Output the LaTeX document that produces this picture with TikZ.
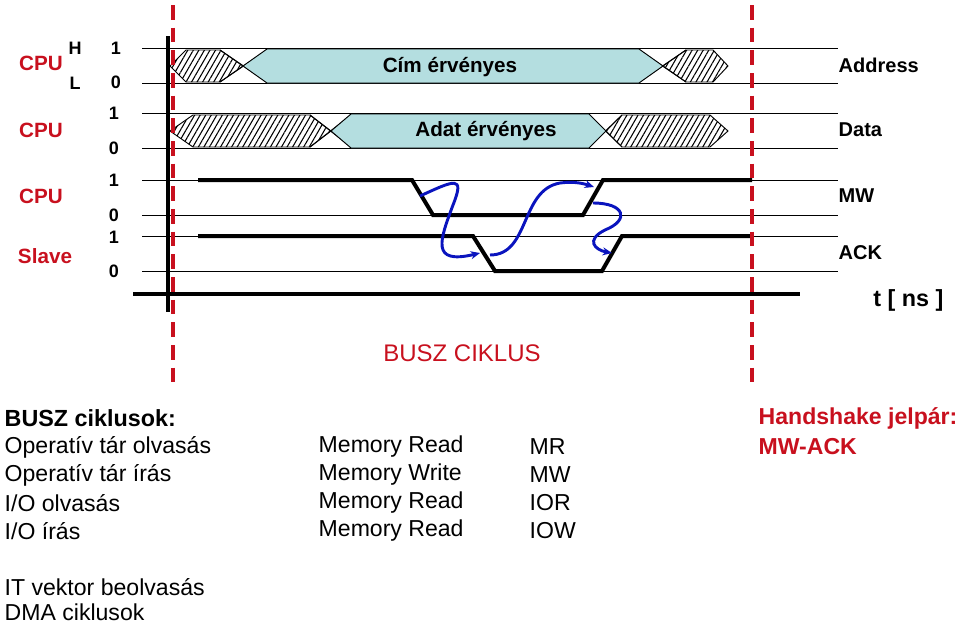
\documentclass[tikz,border=0pt]{standalone}
\usepackage{fontspec}
\setmainfont{Liberation Sans}
\usetikzlibrary{patterns.meta,arrows.meta}
\definecolor{rd}{RGB}{200,16,30}
\definecolor{cy}{RGB}{180,222,224}
\definecolor{bl}{RGB}{10,20,190}
\begin{document}
\begin{tikzpicture}[x=0.75pt,y=-0.75pt,
  thin line/.style={line width=0.7pt},
  sig/.style={line width=3pt},
  hatch/.style={draw,line width=0.7pt,pattern={Lines[angle=60,distance=3.6pt,line width=0.8pt]}},
  valid/.style={draw,line width=0.7pt,fill=cy},
  rl/.style={text=rd,font=\bfseries\fontsize{15.5}{17}\selectfont},
  bl0/.style={font=\bfseries\fontsize{13.5}{15}\selectfont},
  rlab/.style={anchor=west,font=\bfseries\fontsize{15}{17}\selectfont},
  body/.style={anchor=west,font=\fontsize{17.3}{19}\selectfont},
  hs/.style={-{Stealth[length=7pt,width=6pt]},line width=2.2pt,draw=bl},
  rdash/.style={draw=rd,line width=3pt,dash pattern=on 11pt off 6pt}]
\useasboundingbox (0,0) rectangle (960,625);
% reference lines
\foreach \y in {48,83,113,148,180,215,236,271}{\draw[thin line] (142,\y) -- (838,\y);}
% Address
\draw[thin line] (220,50) -- (267,82) (220,82) -- (267,50);
\draw[thin line] (639,50) -- (686,82) (639,82) -- (686,50);
\path[hatch] (170,66) -- (186,50) -- (220,50) -- (243,66) -- (220,82) -- (186,82) -- cycle;
\path[valid] (243,66) -- (267,49) -- (639,49) -- (663,66) -- (639,83) -- (267,83) -- cycle;
\path[hatch] (663,66) -- (686,50) -- (713,50) -- (728,66) -- (713,82) -- (686,82) -- cycle;
\node[font=\bfseries\fontsize{15.5}{17}\selectfont] (cim) at (450,67) {Cím érvényes};
% Data
\draw[thin line] (310,115) -- (351,147) (310,147) -- (351,115);
\draw[thin line] (589,115) -- (622,147) (589,147) -- (622,115);
\path[hatch] (170,131) -- (193,115) -- (310,115) -- (331,131) -- (310,147) -- (193,147) -- cycle;
\path[valid] (331,131) -- (351,114) -- (589,114) -- (606,131) -- (589,148) -- (351,148) -- cycle;
\path[hatch] (606,131) -- (622,115) -- (710,115) -- (728,131) -- (710,147) -- (622,147) -- cycle;
\node[font=\bfseries\fontsize{15.5}{17}\selectfont] (adat) at (486,131) {Adat érvényes};
% MW and ACK
\draw[sig] (198,180) -- (412,180) -- (433,215) -- (583,215) -- (603,180) -- (752,180);
\draw[sig] (198,236) -- (473,236) -- (495,271) -- (602,271) -- (622,236) -- (752,236);
% axes
\draw[line width=3pt] (133,294) -- (800,294);
\draw[line width=3pt] (168,36) -- (168,312);
\draw[rdash] (173,5) -- (173,388);
\draw[rdash] (752,5) -- (752,388);
% handshake arrows
\coordinate (a1) at (420,196); \coordinate (a2) at (480,253);
\coordinate (b1) at (490,255); \coordinate (b2) at (594,187);
\coordinate (c1) at (593,203); \coordinate (c2) at (612,253);
\draw[hs] (a1) .. controls (455,180) and (465,175) .. (453,205) .. controls (440,240) and (430,265) .. (a2);
\draw[hs] (b1) .. controls (530,255) and (520,190) .. (560,183) .. controls (575,181) and (585,184) .. (b2);
\draw[hs] (c1) .. controls (625,203) and (630,220) .. (605,230) .. controls (585,240) and (595,250) .. (c2);
% left labels
\node[rl] (cpu1) at (41,63) {CPU};
\node[bl0] (h) at (75,48) {H};
\node[bl0] (l) at (75,83) {L};
\node[bl0] (a1v) at (116,48) {1};
\node[bl0] (a0v) at (116,82) {0};
\node[rl] (cpu2) at (41,130) {CPU};
\node[bl0] (d1v) at (114,113) {1};
\node[bl0] (d0v) at (114,148) {0};
\node[rl] (cpu3) at (41,196) {CPU};
\node[bl0] (m1v) at (114,180) {1};
\node[bl0] (m0v) at (114,215) {0};
\node[rl] (slave) at (45,256) {Slave};
\node[bl0] (k1v) at (114,237) {1};
\node[bl0] (k0v) at (114,271) {0};
% right labels
\node[rlab] (addr) at (834,65) {Address};
\node[rlab] (data) at (834,130) {Data};
\node[rlab] (mw) at (834,196) {MW};
\node[rlab] (ack) at (834,253) {ACK};
\node[anchor=east,font=\bfseries\fontsize{17.5}{19}\selectfont] (t) at (948,300) {t [ ns ]};
\node[text=rd,font=\fontsize{18}{20}\selectfont] (bc) at (462,353) {BUSZ CIKLUS};
% bottom text
\node[body,font=\bfseries\fontsize{17.5}{19}\selectfont] (bcl) at (0,418) {BUSZ ciklusok:};
\node[body] (r1a) at (0,447) {Operatív tár olvasás};
\node[body] (r2a) at (0,475) {Operatív tár írás};
\node[body] (r3a) at (0,503) {I/O olvasás};
\node[body] (r4a) at (0,531) {I/O írás};
\node[body] (r1b) at (314,447) {Memory Read};
\node[body] (r2b) at (314,475) {Memory Write};
\node[body] (r3b) at (314,503) {Memory Read};
\node[body] (r4b) at (314,531) {Memory Read};
\node[body] (r1c) at (525,447) {MR};
\node[body] (r2c) at (525,475) {MW};
\node[body] (r3c) at (525,503) {IOR};
\node[body] (r4c) at (525,531) {IOW};
\node[body,text=rd,font=\bfseries\fontsize{17.3}{19}\selectfont] (hs1) at (754,418) {Handshake jelpár:};
\node[body,text=rd,font=\bfseries\fontsize{17.3}{19}\selectfont] (hs2) at (754,447) {MW-ACK};
\node[body] (it) at (0,587) {IT vektor beolvasás};
\node[body] (dma) at (0,612) {DMA ciklusok};
\end{tikzpicture}
\end{document}
